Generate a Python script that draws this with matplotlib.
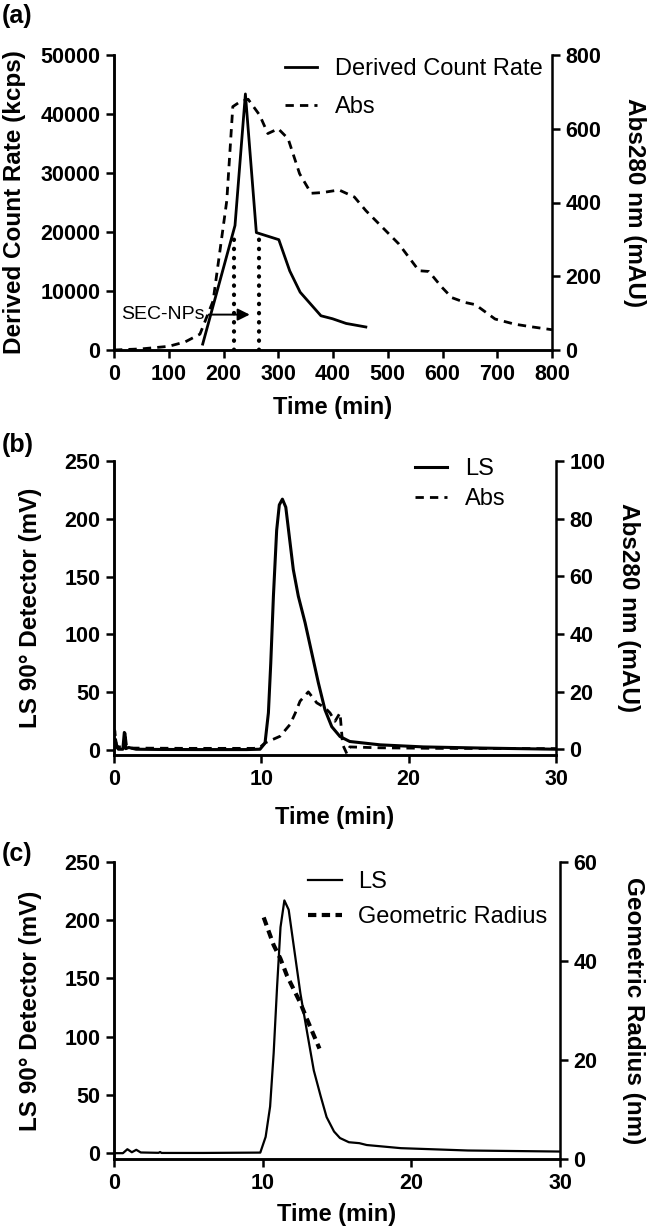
import matplotlib
matplotlib.use('Agg')
import matplotlib.pyplot as plt

# ---- panel (a): DLS count rate vs Abs280 of collected SEC fractions
dcr_time = [162, 221, 240, 260, 301, 321, 340, 378, 399, 424, 460]
dcr_kcps = [1000, 21100, 43400, 19900, 18700, 13400, 9800, 5800, 5300, 4500, 3900]

abs_a_time = [0, 50, 100, 130, 157, 181, 206, 217, 230, 245, 266, 281, 300, 318,
              339, 360, 381, 411, 439, 460, 490, 520, 557, 575, 599, 617, 641,
              660, 696, 732, 762, 800]
abs_a_mau = [0, 3, 10, 22, 43, 133, 405, 660, 673, 680, 637, 587, 600, 573,
             478, 425, 427, 434, 415, 378, 333, 288, 215, 213, 170, 142, 129,
             123, 84, 70, 63, 55]

secnp_bounds = [220, 265]
secnp_top = 19500
secnp_arrow = [168, 253]
secnp_level = 6000

# ---- panel (b): LS 90 deg and Abs280 vs elution time
b_ls_time = [0, 0.1, 0.2, 0.3, 0.6, 0.7, 0.75, 0.8, 1.0, 1.5, 3, 6, 9, 9.91,
             10.25, 10.48, 10.64, 10.82, 11.04, 11.22, 11.43, 11.66, 11.9,
             12.17, 12.51, 12.97, 13.42, 13.87, 14.32, 14.78, 15.34, 16.0,
             18.06, 21, 25, 30]
b_ls_mv = [0, 9, 2, 0.5, 0.5, 15, 14, 1, 2, 0.5, 0.3, 0.2, 0.2, 0.5,
           5.8, 32, 75, 133, 190, 212, 217, 210, 184.5,
           156, 133, 110, 84, 58, 34.6, 20, 11.5, 7.2,
           4.3, 2.5, 1.5, 0.5]

b_abs_time = [0, 0.05, 0.15, 0.3, 0.7, 0.75, 0.85, 1.2, 5, 9.5, 9.9, 10.25,
              11.27, 11.95, 12.3, 12.63, 13.19, 13.76, 14.32, 14.66, 15.0,
              15.34, 15.52, 15.8, 16.0, 18.0, 22, 30]
b_abs_mau = [0.5, 6.5, 1.5, 0.8, 0.8, 5.5, 1.0, 0.4, 0.3, 0.3, 0.6, 2.2,
             4.5, 8.6, 12.5, 16.7, 19.9, 16.1, 14.4, 12.6, 9.7,
             12.6, 1.6, -1.5, 0.8, 0.5, 0.3, 0.2]

# ---- panel (c): LS 90 deg and geometric radius
c_ls_time = [0, 0.6, 0.9, 1.2, 1.5, 1.8, 3.0, 3.1, 3.2, 6, 9.84, 10.2, 10.5,
             10.74, 10.97, 11.2, 11.46, 11.75, 12.1, 12.54, 13.0, 13.44, 13.9,
             14.3, 14.8, 15.2, 15.8, 16.5, 17.0, 19.3, 23.8, 30]
c_ls_mv = [0, 0, 3.4, 0.8, 2.9, 0.6, 0.3, 1, 0.2, 0.2, 0.5, 14, 40,
           86, 143, 194, 217, 209, 177, 137, 103, 71, 49,
           31, 18.6, 13, 9.4, 8.6, 7, 4.3, 2.3, 1.4]

c_rg_time = [10.07, 10.74, 11.19, 11.64, 12.54, 13.0, 13.82]
c_rg_nm = [48.8, 43.2, 40.5, 37.0, 31.5, 28.1, 22.3]

plt.rcParams['font.family'] = ['Liberation Sans', 'DejaVu Sans']
plt.rcParams['font.weight'] = 'bold'
plt.rcParams['axes.labelweight'] = 'bold'
plt.rcParams['axes.linewidth'] = 1.8

W, H = 648, 1231
fig = plt.figure(figsize=(W / 100, H / 100), dpi=100)


def rect(l, r, t, b):
    return [l / W, 1 - b / H, (r - l) / W, (b - t) / H]


def style(ax, right=False):
    ax.spines['top'].set_visible(False)
    if not right:
        ax.spines['right'].set_visible(False)
    ax.tick_params(direction='out', length=5.8, width=1.8, labelsize=15.5, pad=4)


leg_kw = dict(loc='upper left', frameon=False, borderpad=0, borderaxespad=0,
              prop={'weight': 'normal', 'size': 17})

# (a)
ax = fig.add_axes(rect(114, 552, 55, 350))
ax2 = ax.twinx()
l1, = ax.plot(dcr_time, dcr_kcps, color='black', lw=2.0)
l2, = ax2.plot(abs_a_time, abs_a_mau, color='black', lw=2.0, dashes=(3, 2.2))
for xb in secnp_bounds:
    ax.plot([xb, xb], [0, secnp_top], color='black', lw=3,
            linestyle=(0, (0.1, 2.1)), dash_capstyle='round')
ax.annotate('', xy=(secnp_arrow[1], secnp_level), xytext=(secnp_arrow[0], secnp_level),
            arrowprops=dict(arrowstyle='-|>', color='black', lw=1.4, mutation_scale=18))
ax.text(secnp_arrow[0] - 2, secnp_level, 'SEC-NPs', ha='right', va='center',
        fontsize=14, fontweight='normal')
ax.set_xlim(0, 800)
ax.set_ylim(0, 50000)
ax2.set_ylim(0, 800)
ax.set_xticks(range(0, 801, 100))
ax.set_yticks(range(0, 50001, 10000))
ax2.set_yticks(range(0, 801, 200))
style(ax)
style(ax2, right=True)
ax.set_xlabel('Time (min)', fontsize=17)
ax.set_ylabel('Derived Count Rate (kcps)', fontsize=17.5)
ax2.set_ylabel('Abs280 nm (mAU)', fontsize=17.5, rotation=270, va='bottom')
ax.yaxis.set_label_coords(-0.201, 0.5)
ax2.yaxis.set_label_coords(1.162, 0.5)
ax.xaxis.set_label_coords(0.5, -0.156)
ax.legend([l1, l2], ['Derived Count Rate', 'Abs'], bbox_to_anchor=(0.39, 0.99),
          handlelength=1.36, handletextpad=0.76, labelspacing=0.7, **leg_kw)
fig.text(2 / W, 1 - 15.5 / H, '(a)', ha='left', va='center', fontsize=18)

# (b)
ax = fig.add_axes(rect(114, 556, 461, 755))
ax2 = ax.twinx()
l1, = ax.plot(b_ls_time, b_ls_mv, color='black', lw=2.2)
l2, = ax2.plot(b_abs_time, b_abs_mau, color='black', lw=2.0, dashes=(3, 2.2))
ax.set_xlim(0, 30)
ax.set_ylim(-4.5, 250)
ax2.set_ylim(-2, 100)
ax.set_xticks([0, 10, 20, 30])
ax.set_yticks(range(0, 251, 50))
ax2.set_yticks(range(0, 101, 20))
style(ax)
style(ax2, right=True)
ax.set_xlabel('Time (min)', fontsize=17)
ax.set_ylabel('LS 90° Detector (mV)', fontsize=17.5)
ax2.set_ylabel('Abs280 nm (mAU)', fontsize=17.5, rotation=270, va='bottom')
ax.yaxis.set_label_coords(-0.163, 0.5)
ax2.yaxis.set_label_coords(1.138, 0.5)
ax.xaxis.set_label_coords(0.5, -0.172)
ax.legend([l1, l2], ['LS', 'Abs'], bbox_to_anchor=(0.681, 1.01),
          handlelength=1.36, handletextpad=0.76, labelspacing=0.35, **leg_kw)
fig.text(2 / W, 1 - 445 / H, '(b)', ha='left', va='center', fontsize=18)

# (c)
ax = fig.add_axes(rect(114, 560, 862, 1159))
ax2 = ax.twinx()
l1, = ax.plot(c_ls_time, c_ls_mv, color='black', lw=1.6)
l2, = ax2.plot(c_rg_time, c_rg_nm, color='black', lw=3.0, dashes=(2, 1.3))
ax.set_xlim(0, 30)
ax.set_ylim(-5, 250)
ax2.set_ylim(0, 60)
ax.set_xticks([0, 10, 20, 30])
ax.set_yticks(range(0, 251, 50))
ax2.set_yticks(range(0, 61, 20))
style(ax)
style(ax2, right=True)
ax.set_xlabel('Time (min)', fontsize=17)
ax.set_ylabel('LS 90° Detector (mV)', fontsize=17.5)
ax2.set_ylabel('Geometric Radius (nm)', fontsize=17.5, rotation=270, va='bottom')
ax.yaxis.set_label_coords(-0.161, 0.5)
ax2.yaxis.set_label_coords(1.139, 0.5)
ax.xaxis.set_label_coords(0.5, -0.149)
ax.legend([l1, l2], ['LS', 'Geometric Radius'], bbox_to_anchor=(0.435, 0.97),
          handlelength=1.44, handletextpad=0.68, labelspacing=0.55, **leg_kw)
fig.text(2 / W, 1 - 854 / H, '(c)', ha='left', va='center', fontsize=18)

fig.savefig('out.png', dpi=100)
